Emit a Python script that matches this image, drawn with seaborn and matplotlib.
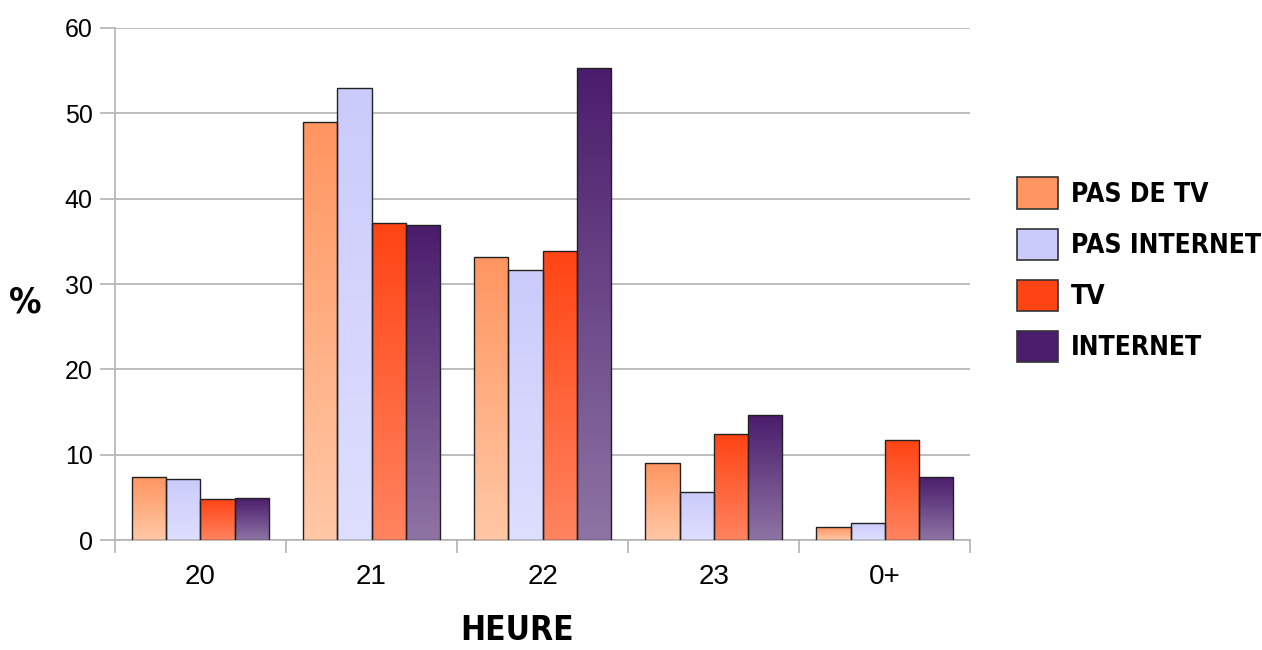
import numpy as np
import pandas as pd
import matplotlib
matplotlib.use('Agg')
import matplotlib.pyplot as plt
import seaborn as sns
from matplotlib import font_manager
from matplotlib.colors import LinearSegmentedColormap
from matplotlib.patches import Patch

# ---- data ----
heures = ['20', '21', '22', '23', '0+']
series = ['PAS DE TV', 'PAS INTERNET', 'TV', 'INTERNET']
pas_de_tv = [7.4, 49.0, 33.2, 9.0, 1.5]
pas_internet = [7.2, 53.0, 31.7, 5.6, 2.0]
tv = [4.8, 37.1, 33.9, 12.4, 11.7]
internet = [4.9, 36.9, 55.3, 14.7, 7.4]

# couleurs : (haut, bas) pour le dégradé
top_colors = ['#FF9560', '#CBCBFB', '#FF4414', '#4A1C6C']
bottom_colors = ['#FFC8A6', '#DEDEFF', '#FF8460', '#8E74A4']

df = pd.DataFrame({
    'heure': heures * 4,
    'serie': sum([[s] * 5 for s in series], []),
    'val': pas_de_tv + pas_internet + tv + internet,
})

sns.set_style('white')
plt.rcParams['font.family'] = ['Liberation Sans', 'DejaVu Sans']

# police étroite pour les titres (condensée si dispo)
noms = {f.name for f in font_manager.fontManager.ttflist}
if 'Liberation Sans Narrow' in noms:
    titre = dict(family='Liberation Sans Narrow', weight='bold')
else:
    titre = dict(family='DejaVu Sans', weight='bold', stretch='condensed')

fig = plt.figure(figsize=(12.62, 6.5), dpi=100)
ax = fig.add_axes([0.091, 0.169, 0.678, 0.788])

sns.barplot(data=df, x='heure', y='val', hue='serie', order=heures,
            hue_order=series, palette=top_colors, width=0.8,
            edgecolor='#222222', linewidth=1.0, ax=ax, legend=False, zorder=3)

# dégradé vertical dans chaque barre
for i, bars in enumerate(ax.containers):
    cmap = LinearSegmentedColormap.from_list('g%d' % i, [bottom_colors[i], top_colors[i]])
    for p in bars:
        x0, y0 = p.get_x(), p.get_y()
        w, h = p.get_width(), p.get_height()
        grad = np.linspace(0, 1, 256).reshape(-1, 1)
        im = ax.imshow(grad, cmap=cmap, origin='lower', aspect='auto',
                       extent=[x0, x0 + w, y0, y0 + h], zorder=3.5)
        im.set_clip_path(p)
        p.set_facecolor('none')
        p.set_zorder(4)

ax.set_xlim(-0.5, len(heures) - 0.5)
ax.set_ylim(0, 60)
ax.set_yticks(range(0, 61, 10))
ax.yaxis.grid(True, color='#b3b3b3', linewidth=1.2, zorder=0)
ax.set_axisbelow(True)

# graduations x entre les catégories
ax.set_xticks(np.arange(-0.5, len(heures), 1.0), minor=True)
ax.tick_params(axis='x', which='major', bottom=True, length=0, labelsize=20, pad=17,
               labelcolor='black')
ax.tick_params(axis='x', which='minor', bottom=True, length=9, color='#b3b3b3', width=1.2,
               direction='out')
ax.tick_params(axis='y', which='major', left=True, direction='out', length=11,
               color='#b3b3b3', width=1.2, labelsize=18, labelcolor='black', pad=5)

for s in ['top', 'right']:
    ax.spines[s].set_visible(False)
for s in ['left', 'bottom']:
    ax.spines[s].set_color('#b3b3b3')
    ax.spines[s].set_linewidth(1.2)

ax.set_xlabel('')
ax.set_ylabel('')
fig.text(0.41, 0.004, 'HEURE', fontsize=24, ha='center', va='bottom', color='black', **titre)
fig.text(0.02, 0.535, '%', fontsize=26, ha='center', va='center', color='black', **titre)

handles = [Patch(facecolor=c, edgecolor='#333333', linewidth=1.2) for c in top_colors]
leg = fig.legend(handles, series, loc='center left', bbox_to_anchor=(0.806, 0.585),
                 frameon=False, handlelength=1.55, handleheight=1.45,
                 labelspacing=0.75, handletextpad=0.5, borderaxespad=0, borderpad=0,
                 prop=dict(size=19, **titre))
for t in leg.get_texts():
    t.set_color('black')

fig.savefig('out.png', dpi=100)
